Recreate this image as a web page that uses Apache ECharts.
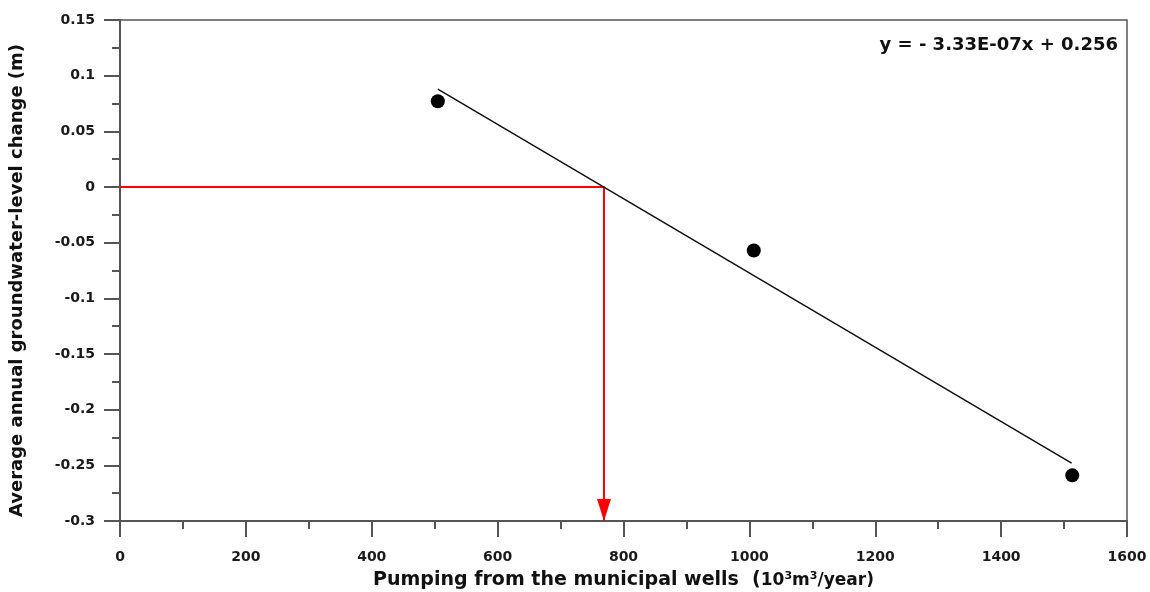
<!DOCTYPE html>
<html>
<head>
<meta charset="utf-8">
<script src="https://cdn.jsdelivr.net/npm/echarts@6/dist/echarts.min.js"></script>
<style>
  html, body { margin: 0; padding: 0; background: #fff; }
  #chart { width: 1150px; height: 592px; }
</style>
</head>
<body>
<div id="chart"></div>
<script>
// observed points (pumping in 10^3 m3/year, level change in m)
const pumping = [505, 1007, 1513]
const levelChange = [0.077, -0.057, -0.259]

// fitted line end points
const fitX = [505, 1512]
const fitY = [0.088, -0.248]

// red guide: zero change -> pumping rate
const guideX = [0, 769, 769]
const guideY = [0, 0, -0.3]

const equation = 'y = - 3.33E-07x + 0.256'

const font = "'DejaVu Sans', 'Liberation Sans', Arial, sans-serif"
const axisColor = '#555'

const chart = echarts.init(document.getElementById('chart'))

const option = {
  animation: false,
  grid: {
    left: 120, right: 23, top: 20, bottom: 71,
    outerBoundsMode: 'none',
    show: true, borderColor: axisColor, borderWidth: 1.5
  },
  xAxis: {
    type: 'value',
    min: 0, max: 1600, interval: 200,
    name: '{a|Pumping from the municipal wells  (}{b|10}{s|3}{b|m}{s|3}{b|/year)}',
    nameLocation: 'middle',
    nameGap: 50,
    nameTextStyle: {
      rich: {
        a: { fontFamily: font, fontWeight: 'bold', fontSize: 19, color: '#111' },
        b: { fontFamily: font, fontWeight: 'bold', fontSize: 17, color: '#111' },
        s: { fontFamily: font, fontWeight: 'bold', fontSize: 11, color: '#111', verticalAlign: 'top', padding: [0, 0, 8, 0] }
      }
    },
    axisLine: { onZero: false, lineStyle: { color: axisColor, width: 2 } },
    axisTick: { length: 16, lineStyle: { color: axisColor, width: 2 } },
    minorTick: { show: true, splitNumber: 2, length: 8, lineStyle: { color: axisColor, width: 2 } },
    splitLine: { show: false },
    axisLabel: {
      margin: 29, fontFamily: font, fontWeight: 'bold', fontSize: 14, color: '#1a1a1a',
      formatter: v => String(v)
    }
  },
  yAxis: {
    type: 'value',
    min: -0.3, max: 0.15, interval: 0.05,
    name: 'Average annual groundwater-level change (m)',
    nameLocation: 'middle',
    nameGap: 94,
    nameTextStyle: {
      fontFamily: font, fontWeight: 'bold', fontSize: 18, color: '#111',
      padding: [0, 20, 0, 0]
    },
    axisLine: { onZero: false, lineStyle: { color: axisColor, width: 2 } },
    axisTick: { length: 16, lineStyle: { color: axisColor, width: 2 } },
    minorTick: { show: true, splitNumber: 2, length: 8, lineStyle: { color: axisColor, width: 2 } },
    splitLine: { show: false },
    axisLabel: {
      margin: 25, fontFamily: font, fontWeight: 'bold', fontSize: 14, color: '#1a1a1a',
      formatter: v => String(Number(v.toFixed(3)))
    }
  },
  graphic: [{
    type: 'text',
    right: 32, top: 36,
    style: { text: equation, fontFamily: font, fontWeight: 'bold', fontSize: 18, fill: '#111' }
  }],
  series: [
    {
      type: 'line',
      data: guideX.map((x, i) => [x, guideY[i]]),
      symbol: 'none',
      lineStyle: { color: '#ff0000', width: 2 },
      z: 2
    },
    {
      type: 'scatter',
      data: [[guideX[2], guideY[2]]],
      symbol: 'triangle',
      symbolRotate: 180,
      symbolSize: [14, 22],
      symbolOffset: [0, -11],
      itemStyle: { color: '#ff0000', opacity: 1 },
      z: 3
    },
    {
      type: 'line',
      data: fitX.map((x, i) => [x, fitY[i]]),
      symbol: 'none',
      lineStyle: { color: '#111', width: 1.5 },
      z: 4
    },
    {
      type: 'scatter',
      data: pumping.map((x, i) => [x, levelChange[i]]),
      symbol: 'circle',
      symbolSize: 14,
      itemStyle: { color: '#000', opacity: 1 },
      z: 5
    }
  ]
}

chart.setOption(option)
window.addEventListener('resize', () => chart.resize())
</script>
</body>
</html>
